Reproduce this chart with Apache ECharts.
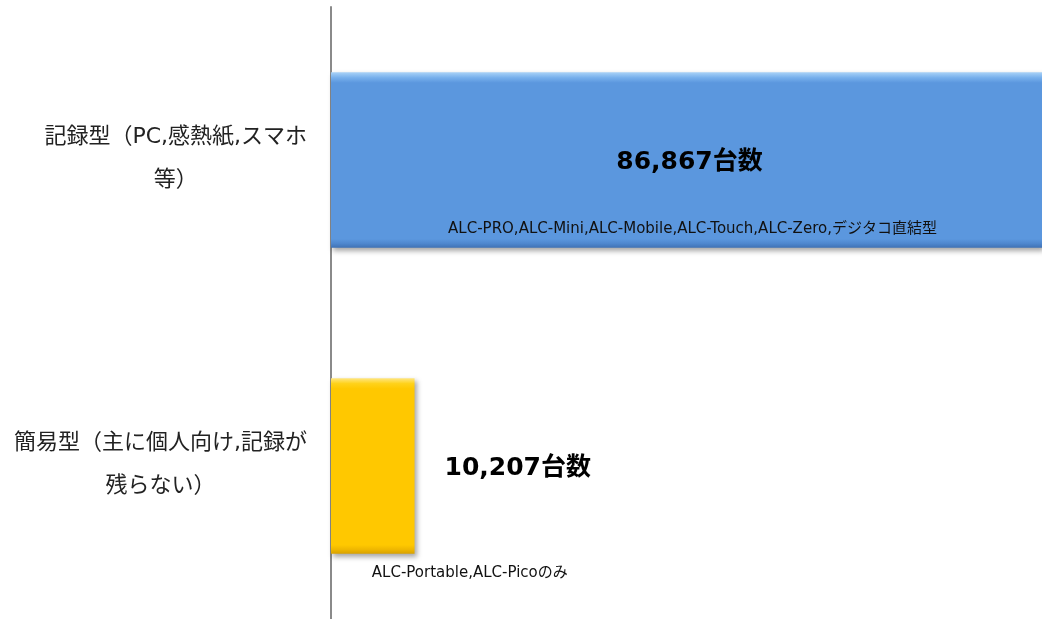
<!DOCTYPE html>
<html>
<head>
<meta charset="utf-8">
<style>
  html, body { margin: 0; padding: 0; background: #ffffff; }
  #chart { width: 1042px; height: 619px; }
</style>
<script src="https://cdn.jsdelivr.net/npm/echarts@6/dist/echarts.min.js"></script>
</head>
<body>
<div id="chart"></div>
<script>
// Device types (top to bottom) and number of units for each
const categories = ['記録型（PC,感熱紙,スマホ\n等）', '簡易型（主に個人向け,記録が\n残らない）'];
const counts = [86867, 10207];
const unitSuffix = '台数';
const notes = ['ALC-PRO,ALC-Mini,ALC-Mobile,ALC-Touch,ALC-Zero,デジタコ直結型', 'ALC-Portable,ALC-Picoのみ'];

const FONT = "'DejaVu Sans', 'Noto Sans CJK JP', sans-serif";

// Bevelled fill: light top edge, flat body, darker bottom edge
function bevel(top, hi, body, low, bottom) {
  return new echarts.graphic.LinearGradient(0, 0, 0, 1, [
    { offset: 0, color: top },
    { offset: 0.03, color: hi },
    { offset: 0.06, color: body },
    { offset: 0.95, color: body },
    { offset: 0.975, color: low },
    { offset: 1, color: bottom }
  ]);
}
const fills = [
  bevel('#a9d2f7', '#78b0ec', '#5b97de', '#4f88cf', '#3f72b5'),
  bevel('#ffe680', '#ffd21a', '#ffc800', '#f0b800', '#d9a200')
];

const chart = echarts.init(document.getElementById('chart'));
chart.setOption({
  backgroundColor: '#ffffff',
  animation: false,
  grid: { left: 331, right: 0, top: 7, bottom: 0 },
  xAxis: {
    type: 'value', min: 0, max: counts[0],
    show: false
  },
  yAxis: {
    type: 'category',
    inverse: true,
    data: categories,
    axisLine: { show: true, lineStyle: { color: '#8a8a8a', width: 2 } },
    axisTick: { show: false },
    splitLine: { show: false },
    axisLabel: {
      margin: 24,
      align: 'right',
      padding: [0, 0, 2, 0],
      formatter: v => v.split('\n').map(l => '{c|' + l + '}').join('\n'),
      rich: {
        c: { align: 'center', fontSize: 22, lineHeight: 43, fontFamily: FONT, color: '#222222' }
      }
    }
  },
  series: [
    {
      type: 'bar',
      barWidth: '57.3%',
      data: counts.map((v, i) => ({
        value: v,
        itemStyle: { color: fills[i] },
        label: i === 0
          ? { position: 'inside', offset: [3, 2] }
          : { position: 'right', distance: 30, offset: [0, 2] }
      })),
      itemStyle: {
        shadowColor: 'rgba(0,0,0,0.35)',
        shadowBlur: 5,
        shadowOffsetX: 2,
        shadowOffsetY: 3
      },
      label: {
        show: true,
        formatter: p => p.value.toLocaleString('en-US') + unitSuffix,
        fontFamily: FONT,
        fontSize: 25,
        fontWeight: 'bold',
        color: '#000000'
      },
      z: 2
    },
    {
      // transparent overlay carrying the model notes for each bar
      type: 'bar',
      barWidth: '57.3%',
      barGap: '-100%',
      silent: true,
      data: counts.map((v, i) => ({
        value: v,
        label: i === 0
          ? { position: 'insideBottom', distance: 11, offset: [6, 0] }
          : { position: 'bottom', distance: 12, offset: [97, 0] }
      })),
      itemStyle: { color: 'rgba(0,0,0,0)' },
      label: {
        show: true,
        formatter: p => notes[p.dataIndex],
        fontFamily: FONT,
        fontSize: 15,
        color: '#111111'
      },
      z: 3
    }
  ]
});
</script>
</body>
</html>
